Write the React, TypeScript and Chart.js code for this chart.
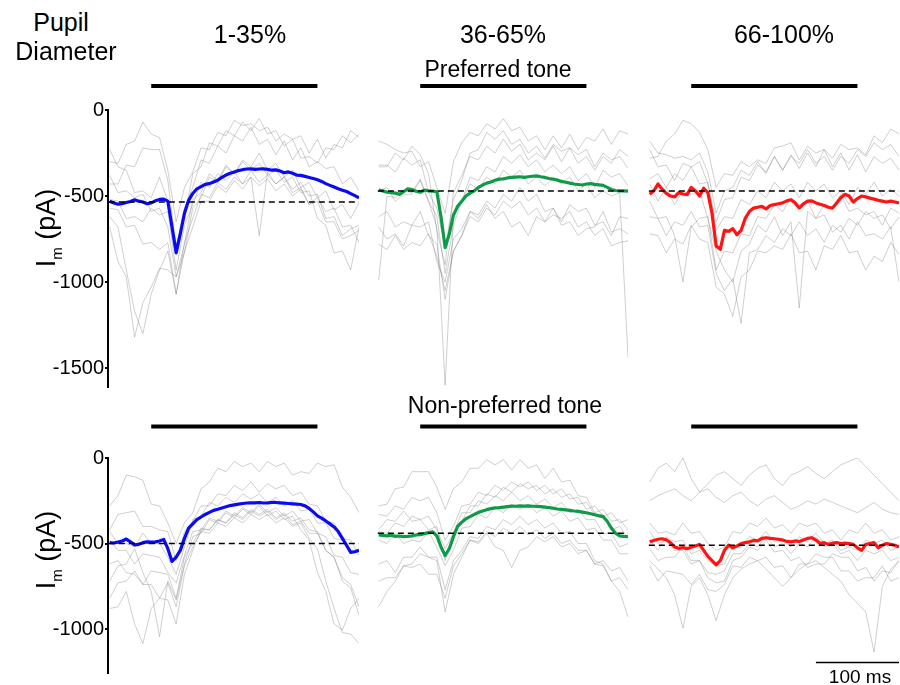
import React, { useEffect, useRef } from "react";
import { Chart, registerables } from "chart.js";

Chart.register(...registerables);

const FONT = "'Liberation Sans', Arial, Helvetica, sans-serif";

// time axes (ms relative to tone onset)
const TIME_GRAY = [-50, -40, -30, -20, -10, 0, 10, 20, 30, 40, 50, 60, 70, 80, 90, 100, 110, 120, 130, 140, 150, 160, 170, 180, 190, 200, 210, 220, 230, 240, 250];
const TIME_MEAN = [-50, -45, -40, -35, -30, -25, -20, -15, -10, -5, 0, 5, 10, 15, 20, 25, 30, 35, 40, 45, 50, 55, 60, 65, 70, 75, 80, 85, 90, 95, 100, 105, 110, 115, 120, 125, 130, 135, 140, 145, 150, 155, 160, 165, 170, 175, 180, 185, 190, 195, 200, 205, 210, 215, 220, 225, 230, 235, 240, 245, 250];
const TONE = [0, 200];
const SCALE_BAR = [150, 250];
const COLUMN_TITLES = ["1-35%", "36-65%", "66-100%"];
const ROW_TITLES = ["Preferred tone", "Non-preferred tone"];
const TICKS_TOP = [0, -500, -1000, -1500];
const TICKS_BOTTOM = [0, -500, -1000];

// mean traces (pA)
const MEAN_1T = [-530, -540, -548, -545, -538, -532, -522, -530, -535, -545, -540, -528, -520, -518, -530, -680, -830, -720, -600, -525, -485, -458, -445, -432, -428, -418, -408, -392, -378, -368, -360, -352, -347, -343, -342, -345, -343, -342, -345, -350, -348, -355, -365, -360, -368, -378, -380, -386, -392, -398, -405, -415, -428, -438, -448, -458, -466, -474, -486, -498, -510];
const MEAN_2T = [-465, -470, -478, -480, -483, -490, -475, -458, -462, -472, -478, -465, -470, -472, -475, -620, -800, -720, -610, -560, -530, -500, -483, -470, -450, -436, -425, -418, -408, -402, -400, -395, -392, -390, -388, -392, -388, -385, -383, -388, -392, -398, -402, -407, -415, -420, -425, -430, -433, -436, -430, -428, -432, -435, -438, -450, -462, -468, -470, -470, -471];
const MEAN_3T = [-490, -470, -430, -460, -485, -500, -505, -480, -488, -492, -450, -470, -500, -455, -480, -600, -790, -810, -700, -705, -690, -725, -700, -630, -590, -570, -565, -560, -575, -555, -550, -545, -540, -528, -522, -540, -570, -545, -530, -528, -540, -548, -555, -565, -570, -540, -510, -490, -500, -535, -515, -500, -505, -512, -518, -525, -530, -535, -530, -535, -540];
const MEAN_1B = [-495, -497, -492, -485, -474, -490, -508, -505, -495, -490, -492, -490, -485, -476, -530, -605, -580, -540, -470, -410, -385, -360, -345, -330, -318, -306, -300, -292, -285, -278, -274, -270, -266, -263, -262, -262, -260, -263, -262, -260, -260, -262, -264, -266, -268, -270, -272, -280, -295, -315, -338, -352, -368, -385, -403, -430, -470, -510, -552, -548, -540];
const MEAN_2B = [-449, -452, -455, -452, -458, -456, -460, -458, -455, -450, -448, -442, -436, -432, -455, -520, -570, -530, -460, -400, -375, -355, -343, -330, -318, -310, -302, -296, -292, -290, -287, -284, -281, -282, -280, -281, -280, -282, -283, -284, -287, -290, -294, -298, -300, -303, -306, -310, -312, -316, -320, -326, -332, -338, -343, -370, -410, -440, -455, -458, -460];
const MEAN_3B = [-490, -482, -475, -472, -478, -495, -520, -528, -524, -530, -522, -515, -505, -540, -575, -600, -625, -600, -540, -510, -525, -515, -500, -495, -490, -482, -485, -470, -466, -470, -472, -475, -480, -488, -490, -485, -488, -480, -470, -466, -480, -500, -495, -505, -498, -495, -500, -498, -500, -505, -525, -540, -505, -500, -495, -525, -510, -500, -505, -510, -520];

// pre-tone baselines (pA)
const BASE_1T = -535;
const BASE_2T = -471;
const BASE_3T = -471;
const BASE_1B = -500;
const BASE_2B = -440;
const BASE_3B = -510;

// individual traces (pA)
const GRAY_1T = [
  [-300, -310, -200, -180, -70, -140, -160, -350, -650, -450, -360, -220, -230, -130, -150, -60, -90, -80, -120, -100, -180, -140, -170, -150, -250, -170, -280, -200, -220, -120, -160],
  [-430, -430, -320, -330, -220, -230, -230, -410, -800, -570, -450, -290, -310, -210, -250, -150, -180, -100, -200, -170, -260, -180, -290, -220, -330, -300, -340, -330, -430, -390, -470],
  [-620, -680, -930, -1170, -1300, -1070, -930, -820, -1070, -770, -630, -490, -510, -420, -460, -390, -430, -350, -420, -380, -430, -390, -460, -420, -500, -490, -630, -620, -730, -690, -670],
  [-680, -880, -970, -1320, -1120, -1030, -920, -930, -970, -780, -520, -480, -370, -410, -320, -370, -300, -350, -310, -380, -350, -420, -390, -480, -470, -630, -670, -830, -820, -930, -680],
  [-520, -530, -630, -620, -650, -570, -610, -590, -930, -670, -550, -420, -450, -370, -410, -360, -430, -390, -730, -360, -430, -390, -480, -450, -550, -530, -650, -650, -750, -730, -700],
  [-380, -480, -470, -510, -490, -590, -570, -680, -970, -830, -570, -510, -390, -420, -330, -370, -290, -330, -250, -350, -310, -390, -350, -450, -420, -510, -470, -580, -550, -630, -540],
  [-570, -580, -680, -670, -780, -770, -810, -770, -1070, -820, -680, -530, -530, -440, -480, -410, -460, -390, -440, -400, -470, -430, -500, -460, -550, -510, -590, -570, -680, -670, -770],
  [-230, -330, -350, -480, -470, -510, -390, -530, -780, -630, -370, -330, -190, -210, -120, -150, -70, -120, -50, -140, -120, -210, -170, -280, -270, -310, -220, -230, -150, -190, -140],
];
const GRAY_2T = [
  [-180, -200, -230, -250, -240, -330, -300, -450, -600, -300, -190, -130, -150, -80, -110, -50, -120, -100, -180, -150, -230, -150, -220, -140, -230, -160, -180, -110, -200, -120, -140],
  [-330, -330, -250, -290, -210, -260, -370, -700, -900, -480, -380, -270, -290, -210, -250, -170, -240, -200, -290, -250, -290, -210, -300, -220, -260, -230, -330, -250, -290, -270, -340],
  [-990, -500, -510, -470, -480, -400, -530, -680, -1600, -620, -530, -430, -460, -390, -430, -350, -390, -350, -430, -390, -440, -400, -430, -390, -470, -430, -510, -470, -500, -480, -1440],
  [-620, -590, -680, -650, -670, -590, -730, -780, -1100, -820, -730, -620, -650, -570, -610, -530, -570, -530, -610, -570, -650, -610, -630, -590, -680, -650, -730, -690, -790, -770, -760],
  [-680, -750, -720, -790, -670, -680, -650, -880, -1000, -750, -690, -590, -610, -530, -570, -490, -530, -450, -530, -490, -590, -570, -650, -550, -590, -570, -670, -650, -730, -620, -630],
  [-470, -450, -530, -490, -490, -410, -530, -620, -950, -670, -530, -390, -410, -330, -360, -270, -310, -260, -330, -290, -360, -320, -370, -330, -410, -370, -450, -350, -390, -370, -440],
  [-780, -810, -730, -810, -770, -790, -720, -850, -1050, -820, -730, -590, -630, -550, -630, -590, -680, -650, -730, -620, -650, -570, -670, -650, -730, -690, -680, -590, -710, -690, -720],
  [-320, -320, -360, -280, -320, -290, -480, -570, -800, -520, -410, -250, -230, -130, -170, -120, -200, -170, -250, -210, -280, -200, -240, -220, -310, -270, -350, -270, -310, -230, -270],
];
const GRAY_3T = [
  [-280, -270, -180, -140, -60, -80, -130, -230, -450, -370, -380, -300, -330, -290, -310, -220, -210, -190, -290, -210, -250, -230, -280, -200, -230, -220, -260, -150, -190, -110, -140],
  [-180, -250, -260, -280, -270, -290, -250, -360, -600, -470, -450, -350, -380, -300, -370, -270, -350, -260, -340, -250, -330, -230, -330, -250, -350, -260, -360, -270, -310, -280, -350],
  [-530, -630, -620, -730, -1000, -680, -630, -620, -930, -820, -830, -720, -730, -620, -630, -550, -590, -510, -550, -530, -630, -550, -570, -490, -590, -570, -610, -590, -670, -570, -600],
  [-720, -730, -830, -750, -780, -670, -750, -770, -1030, -1070, -1200, -970, -930, -820, -830, -790, -810, -720, -830, -820, -930, -790, -810, -730, -830, -820, -930, -850, -880, -770, -840],
  [-430, -530, -450, -550, -470, -490, -470, -630, -820, -930, -1000, -820, -780, -670, -710, -620, -730, -650, -1150, -590, -630, -610, -710, -670, -750, -650, -730, -720, -750, -680, -1000],
  [-400, -370, -450, -370, -410, -330, -430, -420, -700, -620, -630, -520, -550, -470, -510, -420, -470, -430, -510, -420, -470, -430, -510, -470, -550, -450, -490, -420, -500, -460, -500],
  [-230, -330, -320, -410, -310, -330, -300, -430, -650, -520, -510, -390, -410, -320, -360, -270, -350, -270, -310, -230, -310, -270, -350, -270, -310, -230, -270, -190, -230, -200, -270],
  [-620, -630, -730, -650, -670, -590, -680, -670, -950, -1050, -980, -1240, -830, -810, -730, -770, -690, -730, -650, -730, -690, -770, -670, -710, -630, -670, -590, -630, -610, -690, -620],
];
const GRAY_1B = [
  [-280, -220, -100, -110, -130, -270, -280, -380, -500, -380, -320, -180, -140, -60, -80, -20, -50, -30, -80, -20, -50, -30, -100, -80, -90, -30, -50, -40, -170, -230, -320],
  [-420, -330, -320, -310, -400, -400, -420, -430, -600, -430, -370, -280, -280, -210, -220, -160, -190, -140, -200, -150, -180, -160, -220, -200, -270, -280, -370, -380, -470, -480, -570],
  [-880, -870, -780, -970, -1085, -880, -820, -730, -870, -630, -520, -430, -440, -380, -400, -350, -380, -330, -360, -330, -380, -350, -400, -380, -470, -530, -720, -880, -1020, -1030, -1085],
  [-720, -630, -620, -530, -670, -780, -1045, -720, -830, -620, -460, -440, -360, -380, -320, -350, -300, -330, -280, -340, -310, -360, -340, -420, -480, -670, -780, -970, -1006, -880, -820],
  [-480, -540, -540, -620, -560, -570, -580, -670, -730, -570, -430, -420, -350, -370, -310, -340, -290, -320, -270, -320, -290, -340, -310, -370, -360, -440, -460, -570, -580, -670, -680],
  [-620, -600, -670, -680, -740, -660, -670, -680, -820, -580, -500, -410, -420, -360, -380, -330, -360, -310, -340, -310, -360, -330, -390, -370, -440, -440, -540, -580, -700, -740, -870],
  [-430, -500, -500, -520, -440, -500, -500, -580, -680, -520, -360, -340, -260, -280, -230, -260, -210, -240, -210, -260, -230, -280, -250, -310, -300, -380, -380, -470, -480, -540, -540],
  [-820, -730, -720, -660, -740, -740, -820, -830, -970, -680, -540, -420, -420, -360, -380, -320, -350, -300, -330, -300, -350, -320, -370, -350, -420, -430, -540, -580, -720, -760, -920],
];
const GRAY_2B = [
  [-280, -270, -180, -170, -80, -80, -80, -170, -300, -180, -140, -60, -60, -10, -40, -10, -70, -10, -60, -40, -120, -60, -140, -130, -220, -230, -320, -300, -370, -360, -420],
  [-420, -360, -370, -310, -370, -360, -420, -400, -600, -430, -370, -280, -280, -210, -230, -170, -200, -150, -180, -160, -210, -180, -230, -210, -270, -260, -330, -330, -420, -400, -470],
  [-870, -780, -720, -630, -620, -560, -580, -580, -770, -600, -540, -460, -470, -400, -420, -360, -390, -340, -390, -360, -410, -380, -440, -430, -500, -500, -600, -620, -720, -780, -930],
  [-620, -600, -670, -580, -580, -520, -580, -600, -900, -680, -580, -480, -500, -440, -520, -540, -640, -540, -520, -460, -490, -460, -520, -500, -560, -540, -620, -600, -660, -640, -720],
  [-480, -500, -440, -500, -480, -490, -430, -520, -630, -540, -410, -400, -330, -350, -290, -320, -270, -300, -270, -320, -290, -340, -310, -370, -350, -420, -410, -480, -480, -560, -560],
  [-330, -340, -280, -300, -230, -250, -230, -320, -480, -400, -280, -270, -200, -220, -160, -190, -140, -170, -140, -190, -160, -210, -180, -240, -230, -300, -280, -340, -320, -380, -360],
  [-720, -700, -700, -630, -640, -620, -680, -680, -820, -630, -560, -480, -490, -430, -460, -410, -440, -400, -450, -420, -470, -440, -500, -480, -540, -540, -620, -630, -720, -700, -770],
  [-430, -440, -380, -400, -340, -360, -340, -420, -530, -440, -320, -320, -250, -270, -220, -250, -200, -250, -220, -270, -240, -290, -260, -320, -300, -360, -360, -440, -440, -520, -500],
];
const GRAY_3B = [
  [-140, -60, -30, -80, 0, -120, -200, -150, -100, -80, -120, -160, -100, -60, -40, -120, -160, -100, -80, -50, -90, -120, -80, -40, -20, 0, -50, -100, -150, -200, -250],
  [-250, -220, -200, -180, -220, -250, -200, -180, -230, -260, -220, -200, -250, -280, -240, -220, -260, -300, -280, -250, -270, -240, -260, -280, -300, -320, -290, -260, -300, -320, -330],
  [-600, -650, -700, -800, -995, -750, -700, -800, -950, -800, -700, -650, -620, -600, -650, -700, -750, -700, -650, -620, -600, -640, -680, -720, -800, -850, -900, -1135, -750, -650, -600],
  [-480, -540, -460, -490, -480, -560, -540, -600, -630, -620, -520, -520, -460, -480, -430, -490, -470, -520, -460, -490, -440, -500, -480, -540, -520, -540, -480, -500, -480, -540, -520],
  [-380, -440, -430, -450, -380, -440, -430, -500, -540, -520, -430, -440, -380, -400, -350, -410, -390, -440, -380, -400, -380, -440, -420, -480, -420, -440, -380, -440, -420, -480, -460],
  [-630, -720, -660, -670, -680, -740, -680, -770, -780, -740, -630, -640, -580, -600, -580, -640, -630, -700, -620, -620, -560, -580, -580, -660, -660, -720, -700, -700, -630, -720, -700],
  [-530, -600, -580, -580, -520, -600, -600, -670, -680, -660, -560, -560, -500, -520, -460, -520, -500, -560, -500, -520, -460, -520, -500, -560, -540, -600, -540, -560, -540, -600, -580],
  [-430, -500, -480, -540, -540, -620, -600, -700, -730, -720, -600, -580, -520, -540, -480, -550, -540, -600, -580, -640, -620, -620, -560, -580, -580, -660, -640, -720, -660, -670, -600],
];

const COLORS = ["#0a0af5", "#0f9a48", "#ff1414"];

type Panel = { row: number; col: number; mean: number[]; grays: number[][]; base: number };
const PANELS: Panel[] = [
  { row: 0, col: 0, mean: MEAN_1T, grays: GRAY_1T, base: BASE_1T },
  { row: 0, col: 1, mean: MEAN_2T, grays: GRAY_2T, base: BASE_2T },
  { row: 0, col: 2, mean: MEAN_3T, grays: GRAY_3T, base: BASE_3T },
  { row: 1, col: 0, mean: MEAN_1B, grays: GRAY_1B, base: BASE_1B },
  { row: 1, col: 1, mean: MEAN_2B, grays: GRAY_2B, base: BASE_2B },
  { row: 1, col: 2, mean: MEAN_3B, grays: GRAY_3B, base: BASE_3B },
];

// layout (pixels)
const AREA_LEFT = [108, 377, 648];
const AREA_W = 251;
const AXIS_W = 60;
const AREA_TOP = [110, 458];
const AREA_BOTTOM = [387, 673];
const Y_MIN = [-1610, -1257];
const PAD_TOP = 40;
const PAD_BOTTOM = [14, 14];
const STIM_OFFSET = [24, 31.5];

const stimPlugin = {
  id: "stim",
  afterDatasetsDraw(chart: any, _args: any, opts: any) {
    const { ctx, chartArea, scales } = chart;
    const x = scales.x;
    ctx.save();
    ctx.strokeStyle = "#000";
    ctx.lineCap = "butt";
    ctx.lineWidth = 4;
    const y = chartArea.top - opts.offset;
    ctx.beginPath();
    ctx.moveTo(x.getPixelForValue(TONE[0]), y);
    ctx.lineTo(x.getPixelForValue(TONE[1]), y);
    ctx.stroke();
    if (opts.scaleBar) {
      const yb = chartArea.bottom - 10.5;
      ctx.lineWidth = 1.5;
      ctx.beginPath();
      ctx.moveTo(x.getPixelForValue(SCALE_BAR[0]), yb);
      ctx.lineTo(x.getPixelForValue(SCALE_BAR[1]), yb);
      ctx.stroke();
    }
    ctx.restore();
  },
};

function makeConfig(p: Panel): any {
  const withAxis = p.col === 0;
  const ticks = p.row === 0 ? TICKS_TOP : TICKS_BOTTOM;
  const datasets: any[] = [
    {
      data: [{ x: -51, y: p.base }, { x: 250, y: p.base }],
      borderColor: "#000",
      borderWidth: 1.6,
      borderDash: [6, 4],
      pointRadius: 0,
    },
    {
      data: p.mean.map((v, i) => ({ x: TIME_MEAN[i], y: v })),
      borderColor: COLORS[p.col],
      borderWidth: 3.2,
      borderJoinStyle: "round",
      pointRadius: 0,
    },
    ...p.grays.map((g) => ({
      data: g.map((v, i) => ({ x: TIME_GRAY[i], y: v })),
      borderColor: "rgba(120,120,120,0.45)",
      borderWidth: 0.8,
      pointRadius: 0,
    })),
  ];
  return {
    type: "line",
    data: { datasets },
    options: {
      responsive: false,
      animation: false,
      events: [],
      layout: { padding: { top: PAD_TOP, bottom: PAD_BOTTOM[p.row], left: 0, right: 0 } },
      plugins: {
        legend: { display: false },
        tooltip: { enabled: false },
        stim: { offset: STIM_OFFSET[p.row], scaleBar: p.row === 1 && p.col === 2 },
      },
      scales: {
        x: { type: "linear", min: -52, max: 250, display: false },
        y: withAxis
          ? {
              type: "linear",
              min: Y_MIN[p.row],
              max: 0,
              afterBuildTicks: (s: any) => {
                s.ticks = ticks.map((v) => ({ value: v }));
              },
              afterFit: (s: any) => {
                s.width = AXIS_W;
              },
              ticks: {
                color: "#000",
                font: { family: FONT, size: 20 },
                padding: 1,
                callback: (v: any) => String(v),
              },
              grid: { display: true, drawOnChartArea: false, drawTicks: true, tickLength: 3, color: "#000", lineWidth: 2 },
              border: { display: true, color: "#000", width: 2 },
            }
          : { type: "linear", min: Y_MIN[p.row], max: 0, display: false },
      },
    },
    plugins: [stimPlugin],
  };
}

function Txt({ text, cx, base, fs }: { text: string; cx: number; base: number; fs: number }) {
  return (
    <div
      style={{
        position: "absolute",
        left: cx - 150,
        width: 300,
        top: base - 0.8465 * fs,
        fontSize: fs,
        lineHeight: fs + "px",
        textAlign: "center",
        whiteSpace: "nowrap",
      }}
    >
      {text}
    </div>
  );
}

function YLabel({ cx, cy }: { cx: number; cy: number }) {
  return (
    <div
      style={{
        position: "absolute",
        left: cx - 60,
        top: cy - 15,
        width: 120,
        height: 30,
        lineHeight: "30px",
        fontSize: 27,
        textAlign: "center",
        whiteSpace: "nowrap",
        transform: "rotate(-90deg)",
      }}
    >
      I<span style={{ fontSize: 15, position: "relative", top: 7 }}>m</span> (pA)
    </div>
  );
}

export default function App() {
  const refs = useRef<(HTMLCanvasElement | null)[]>([]);
  useEffect(() => {
    const charts = PANELS.map((p, i) => new Chart(refs.current[i] as HTMLCanvasElement, makeConfig(p)));
    return () => charts.forEach((c) => c.destroy());
  }, []);

  return (
    <div
      style={{
        position: "absolute",
        left: 0,
        top: 0,
        width: 900,
        height: 685,
        background: "#fff",
        color: "#000",
        fontFamily: FONT,
        overflow: "hidden",
      }}
    >
      {PANELS.map((p, i) => {
        const left = AREA_LEFT[p.col] - (p.col === 0 ? AXIS_W : 0);
        const width = AREA_W + (p.col === 0 ? AXIS_W : 0);
        const top = AREA_TOP[p.row] - PAD_TOP;
        const height = PAD_TOP + (AREA_BOTTOM[p.row] - AREA_TOP[p.row]) + PAD_BOTTOM[p.row];
        return (
          <canvas
            key={i}
            ref={(el) => {
              refs.current[i] = el;
            }}
            width={width}
            height={height}
            style={{ position: "absolute", left, top, width, height }}
          />
        );
      })}
      <Txt text="Pupil" cx={61} base={31} fs={25} />
      <Txt text="Diameter" cx={66} base={60} fs={25} />
      <Txt text={COLUMN_TITLES[0]} cx={250} base={43} fs={25} />
      <Txt text={COLUMN_TITLES[1]} cx={503} base={43} fs={25} />
      <Txt text={COLUMN_TITLES[2]} cx={784} base={43} fs={25} />
      <Txt text={ROW_TITLES[0]} cx={498} base={77} fs={23} />
      <Txt text={ROW_TITLES[1]} cx={505} base={413} fs={23} />
      <Txt text="100 ms" cx={860} base={683} fs={19} />
      <YLabel cx={46} cy={228} />
      <YLabel cx={46} cy={550} />
    </div>
  );
}
